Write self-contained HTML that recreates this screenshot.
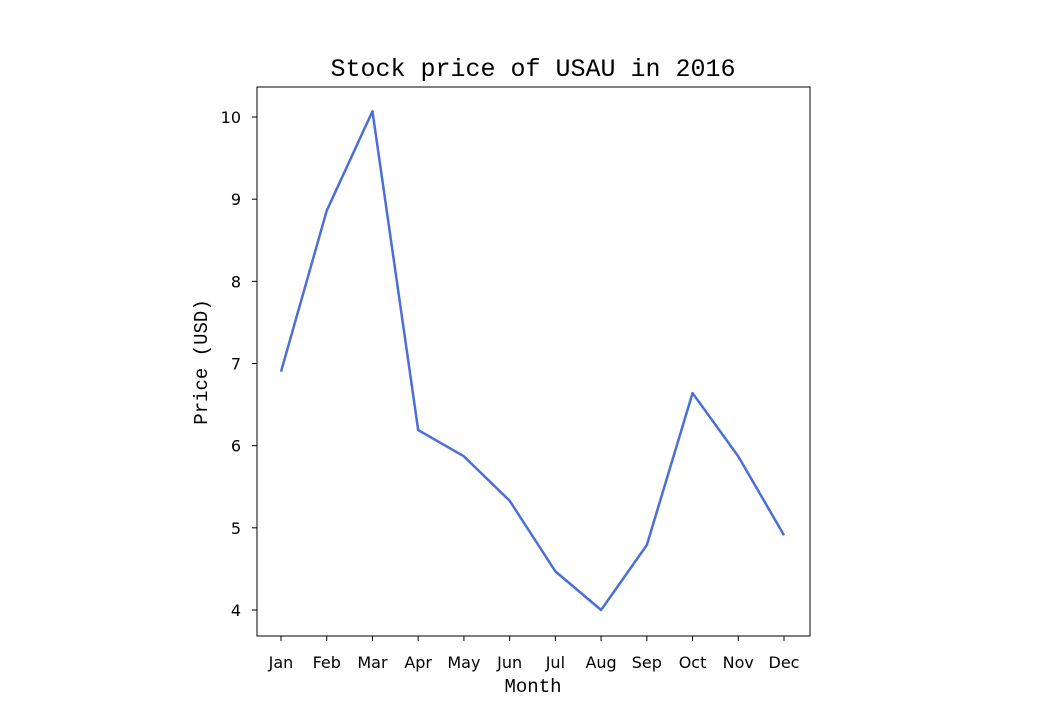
<!DOCTYPE html>
<html><head><meta charset="utf-8"><style>
body{margin:0;background:#fff;}
svg{display:block;}
.tick{font-family:"DejaVu Sans","Liberation Sans",sans-serif;font-size:16px;fill:#000;}
.mono{font-family:"Liberation Mono","DejaVu Sans Mono",monospace;fill:#000;}
</style></head><body>
<svg id="chart" width="1040" height="715" viewBox="0 0 1040 715">
<rect x="0" y="0" width="1040" height="715" fill="#fff"/>
<text x="533" y="76" text-anchor="middle" class="mono" font-size="25">Stock price of USAU in 2016</text>
<text x="533" y="692" text-anchor="middle" class="mono" font-size="19">Month</text>
<text transform="translate(207,362) rotate(-90)" text-anchor="middle" class="mono" font-size="19">Price (USD)</text>
<g id="plot"></g>
<rect x="257" y="87" width="553" height="549" fill="none" stroke="#000" stroke-width="1"/>
</svg>
<script>
const months=["Jan","Feb","Mar","Apr","May","Jun","Jul","Aug","Sep","Oct","Nov","Dec"];
const prices=[6.90,8.86,10.07,6.19,5.87,5.33,4.47,4.00,4.79,6.64,5.87,4.91];
const yTicks=[4,5,6,7,8,9,10];
const NS="http://www.w3.org/2000/svg";
const g=document.getElementById('plot');
function xScale(i){return 281+i*(784-281)/11;}
function yScale(v){return 610-(v-4)*(610-117)/6;}
function el(t,a){const e=document.createElementNS(NS,t);for(const k in a)e.setAttribute(k,a[k]);g.appendChild(e);return e;}
yTicks.forEach(v=>{
  const y=yScale(v);
  const l=el('line',{x1:252,x2:257,y1:y,y2:y,stroke:'#000'});
  
  
  const t=el('text',{x:241,y:y+6,'text-anchor':'end',class:'tick'});
  t.textContent=v;
  
  
});
months.forEach((m,i)=>{
  const x=xScale(i);
  const l=el('line',{x1:x,x2:x,y1:636,y2:641,stroke:'#000'});
  
  
  const t=el('text',{x:x,y:668,'text-anchor':'middle',class:'tick'});
  t.textContent=m;
  
  
});
const p=el('polyline',{points:prices.map((v,i)=>xScale(i)+','+yScale(v)).join(' '),fill:'none',stroke:'#4a6fd8','stroke-width':2.5,'stroke-linejoin':'round'});


</script>
</body></html>
